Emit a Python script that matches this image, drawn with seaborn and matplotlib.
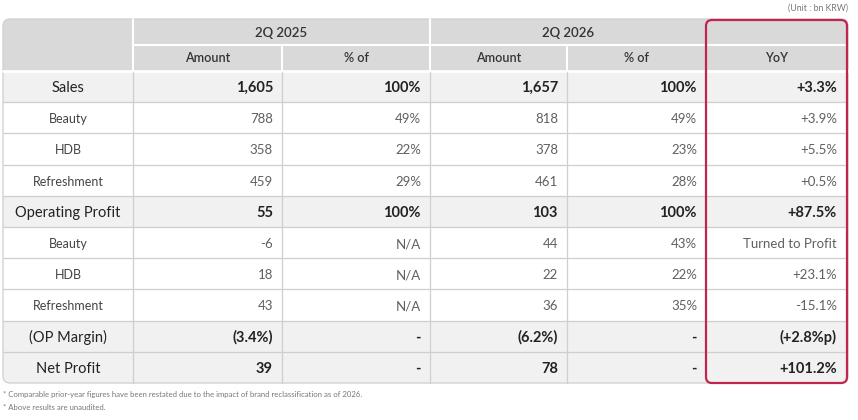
import numpy as np
import seaborn as sns
from matplotlib import pyplot as plt
from matplotlib.colors import ListedColormap
from matplotlib.patches import FancyBboxPatch, Rectangle

# table content
row_labels = ["Sales", "Beauty", "HDB", "Refreshment", "Operating Profit",
              "Beauty", "HDB", "Refreshment", "(OP Margin)", "Net Profit"]
bold_rows = [1, 0, 0, 0, 1, 0, 0, 0, 1, 1]
amount_2025 = ["1,605", "788", "358", "459", "55", "-6", "18", "43", "(3.4%)", "39"]
share_2025 = ["100%", "49%", "22%", "29%", "100%", "N/A", "N/A", "N/A", "-", "-"]
amount_2026 = ["1,657", "818", "378", "461", "103", "44", "22", "36", "(6.2%)", "78"]
share_2026 = ["100%", "49%", "23%", "28%", "100%", "43%", "22%", "35%", "-", "-"]
yoy = ["+3.3%", "+3.9%", "+5.5%", "+0.5%", "+87.5%", "Turned to Profit",
       "+23.1%", "-15.1%", "(+2.8%p)", "+101.2%"]
periods = ["2Q 2025", "2Q 2026"]
sub_headers = ["Amount", "% of", "Amount", "% of", "YoY"]
notes = ["* Comparable prior-year figures have been restated due to the impact of brand reclassification as of 2026.",
         "* Above results are unaudited."]

sns.set_theme(style="white")
plt.rcParams["font.family"] = ["Lato", "DejaVu Sans"]

W, H = 858, 420
fig = plt.figure(figsize=(W / 100, H / 100), dpi=100)

# layout in pixels
left, right = 3, 848
top, head_mid, head_bot = 19, 45, 71
bottom = 383
col_edges = [3, 133, 282, 430, 567, 706, 848]
n = len(row_labels)
row_h = (bottom - head_bot) / n

# body shading via heatmap
body = fig.add_axes([left / W, 1 - bottom / H, (right - left) / W, (bottom - head_bot) / H])
shade = np.array(bold_rows).reshape(-1, 1)
sns.heatmap(shade, cmap=ListedColormap(["#ffffff", "#f1f1f1"]), cbar=False,
            ax=body, linewidths=0, xticklabels=False, yticklabels=False)
body.set_axis_off()

ov = fig.add_axes([0, 0, 1, 1], zorder=3)
ov.set_xlim(0, W)
ov.set_ylim(H, 0)
ov.set_axis_off()
ov.patch.set_alpha(0)

clip = FancyBboxPatch((left, top), right - left, bottom - top,
                      boxstyle="round,pad=0,rounding_size=7", transform=ov.transData)
for coll in body.collections:
    coll.set_clip_path(clip)

# header background
hdr = Rectangle((left, top), right - left, head_bot - top, color="#d9d9d9", lw=0)
ov.add_patch(hdr)
hdr.set_clip_path(clip)

# outline
ov.add_patch(FancyBboxPatch((left, top), right - left, bottom - top,
                            boxstyle="round,pad=0,rounding_size=7",
                            fc="none", ec="#cfcfcf", lw=0.9))

# header dividers (white)
ov.plot([col_edges[1], right - 3], [head_mid, head_mid], color="white", lw=1.5)
ov.plot([left, right], [head_bot - 0.5, head_bot - 0.5], color="white", lw=2)
for x in [col_edges[1], col_edges[3]]:
    ov.plot([x, x], [top, head_bot], color="white", lw=1.5)
for x in [col_edges[2], col_edges[4]]:
    ov.plot([x, x], [head_mid, head_bot], color="white", lw=1.5)

# body grid
for i in range(1, n):
    y = head_bot + i * row_h
    ov.plot([left, right - 3], [y, y], color="#cfcfcf", lw=0.9)
for x in col_edges[1:5]:
    ov.plot([x, x], [head_bot + 1, bottom], color="#cfcfcf", lw=0.9)

# header text
hc = "#333333"
ov.text((col_edges[1] + col_edges[3]) / 2, (top + head_mid) / 2 + 1, periods[0],
        ha="center", va="center", fontsize=9.5, color=hc, fontweight="semibold")
ov.text((col_edges[3] + col_edges[5]) / 2, (top + head_mid) / 2 + 1, periods[1],
        ha="center", va="center", fontsize=9.5, color=hc, fontweight="semibold")
for j, s in enumerate(sub_headers):
    cx = (col_edges[j + 1] + col_edges[j + 2]) / 2
    ov.text(cx, (head_mid + head_bot) / 2 + 0.5, s, ha="center", va="center",
            fontsize=9, color=hc, fontweight="semibold")

# body text
columns = [amount_2025, share_2025, amount_2026, share_2026, yoy]
for i, lab in enumerate(row_labels):
    cy = head_bot + (i + 0.5) * row_h + 1.5
    b = bold_rows[i]
    ov.text((col_edges[0] + col_edges[1]) / 2, cy, lab, ha="center", va="center",
            fontsize=10.5 if b else 9, color="#222222" if b else "#444444")
    for j, col in enumerate(columns):
        rx = col_edges[j + 2] - (11 if j == 4 else 9)
        ov.text(rx, cy, col[i], ha="right", va="center",
                fontsize=10.5 if b else 9.5,
                color="#222222" if b else "#606060",
                fontweight="bold" if b else "normal")

# YoY highlight box
ov.add_patch(FancyBboxPatch((col_edges[5], top + 1), 141, bottom - top - 1,
                            boxstyle="round,pad=0,rounding_size=6",
                            fc="none", ec="#c1244e", lw=1.6, zorder=5))

# unit and footnotes
ov.text(right, 8, "(Unit : bn KRW)", ha="right", va="center", fontsize=6.3, color="#777777")
for k, s in enumerate(notes):
    ov.text(left, 395 + k * 12, s, ha="left", va="center", fontsize=5.6, color="#777777")

fig.savefig("out.png", dpi=100)
